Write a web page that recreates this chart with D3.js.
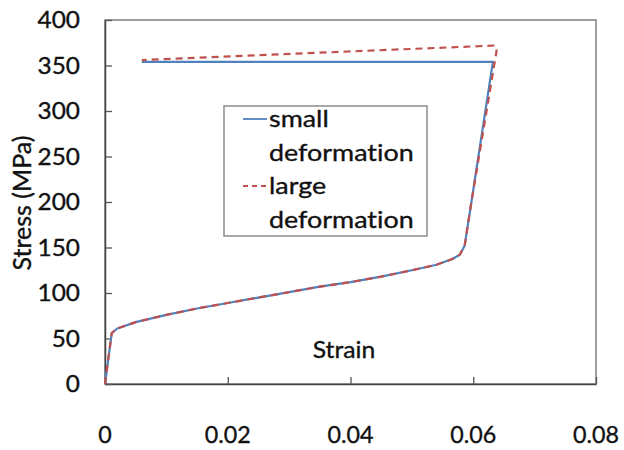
<!DOCTYPE html>
<html>
<head>
<meta charset="utf-8">
<script src="https://cdn.jsdelivr.net/npm/d3@7"></script>
<style>
  body { margin: 0; background: #fff; }
  text { font-family: Lato, "Open Sans", sans-serif; fill: #111; stroke: #111; stroke-width: 0.35px; font-variant-ligatures: none; }
</style>
</head>
<body>
<div id="chart"></div>
<script>
// values
const strainSmall = [0, 0.0011, 0.002, 0.005, 0.01, 0.015, 0.02, 0.025, 0.03, 0.035, 0.04, 0.045, 0.05, 0.054, 0.0565, 0.0578, 0.0586, 0.0597, 0.0632, 0.006];
const stressSmall = [0, 56, 61, 68, 76, 83, 89, 95, 101, 107, 112, 118, 125, 131, 137, 142, 152, 200, 354, 354];
const strainLarge = [0, 0.0011, 0.002, 0.005, 0.01, 0.015, 0.02, 0.025, 0.03, 0.035, 0.04, 0.045, 0.05, 0.054, 0.0565, 0.0578, 0.0586, 0.0597, 0.0638, 0.0636, 0.006];
const stressLarge = [0, 56, 61, 68, 76, 83, 89, 95, 101, 107, 112, 118, 125, 131, 137, 142, 152, 200, 366, 372, 356];
const xTicks = [0, 0.02, 0.04, 0.06, 0.08];
const yTicks = [0, 50, 100, 150, 200, 250, 300, 350, 400];
const seriesNames = ["small deformation", "large deformation"];

const W = 624, H = 450;
const plotL = 105, plotR = 596, plotT = 20, plotB = 384;

const svg = d3.select("#chart").append("svg")
  .attr("width", W).attr("height", H);

const x = d3.scaleLinear().domain([0, 0.08]).range([plotL, plotR]);
const y = d3.scaleLinear().domain([0, 400]).range([plotB, plotT]);

// text that is a bit wider than the font (the picture is stretched sideways)
function label(px, py, str, size, anchor, sx, dy) {
  return svg.append("text")
    .attr("transform", `translate(${px},${py}) scale(${sx},1)`)
    .attr("text-anchor", anchor)
    .attr("dy", dy || 0)
    .style("font-size", size + "px")
    .text(str);
}

// frame (top/right lighter)
svg.append("rect")
  .attr("x", plotL).attr("y", plotT)
  .attr("width", plotR - plotL).attr("height", plotB - plotT)
  .attr("fill", "none").attr("stroke", "#7f7f7f").attr("stroke-width", 1.5);

// axes with inward ticks, labels placed separately
const xAxis = svg.append("g")
  .attr("transform", `translate(0,${plotB})`)
  .call(d3.axisBottom(x).tickValues(xTicks).tickSizeInner(-7).tickSizeOuter(0).tickFormat(""));
const yAxis = svg.append("g")
  .attr("transform", `translate(${plotL},0)`)
  .call(d3.axisLeft(y).tickValues(yTicks).tickSizeInner(-7).tickSizeOuter(0).tickFormat(""));
[xAxis, yAxis].forEach(g => {
  g.select(".domain").attr("stroke", "#444").attr("stroke-width", 1.5);
  g.selectAll(".tick line").attr("stroke", "#555").attr("stroke-width", 1.3);
});

// tick labels
xTicks.forEach(d => label(x(d), 443, d === 0 ? "0" : d.toFixed(2), 24, "middle", 0.97));
yTicks.forEach(d => label(80, y(d), d, 23, "end", 1.06, "0.36em"));

// axis titles
svg.append("text")
  .attr("transform", "translate(31,203) rotate(-90)")
  .attr("text-anchor", "middle")
  .style("font-size", "25px")
  .text("Stress (MPa)");
label(344, 358, "Strain", 24, "middle", 1.03);

// lines
const line = d3.line().x(d => x(d[0])).y(d => y(d[1]));
svg.append("path")
  .datum(strainSmall.map((s, i) => [s, stressSmall[i]]))
  .attr("d", line)
  .attr("fill", "none").attr("stroke", "#4F81BD").attr("stroke-width", 2.2)
  .attr("stroke-linejoin", "round");
svg.append("path")
  .datum(strainLarge.map((s, i) => [s, stressLarge[i]]))
  .attr("d", line)
  .attr("fill", "none").attr("stroke", "#C0504D").attr("stroke-width", 2.2)
  .attr("stroke-dasharray", "7,5");

// legend
svg.append("rect")
  .attr("x", 224).attr("y", 106).attr("width", 203).attr("height", 130)
  .attr("fill", "#fff").attr("stroke", "#8c8c8c").attr("stroke-width", 1.5);
const legendRows = [
  { lines: ["small", "deformation"], color: "#4F81BD", dash: null, y: 119 },
  { lines: ["large", "deformation"], color: "#C0504D", dash: "5,4", y: 186 }
];
legendRows.forEach(r => {
  svg.append("line")
    .attr("x1", 243).attr("x2", 267).attr("y1", r.y).attr("y2", r.y)
    .attr("stroke", r.color).attr("stroke-width", 1.8)
    .attr("stroke-dasharray", r.dash);
  r.lines.forEach((t, j) => label(269, r.y + j * 34, t, 24, "start", 1.12, "0.34em"));
});
</script>
</body>
</html>
